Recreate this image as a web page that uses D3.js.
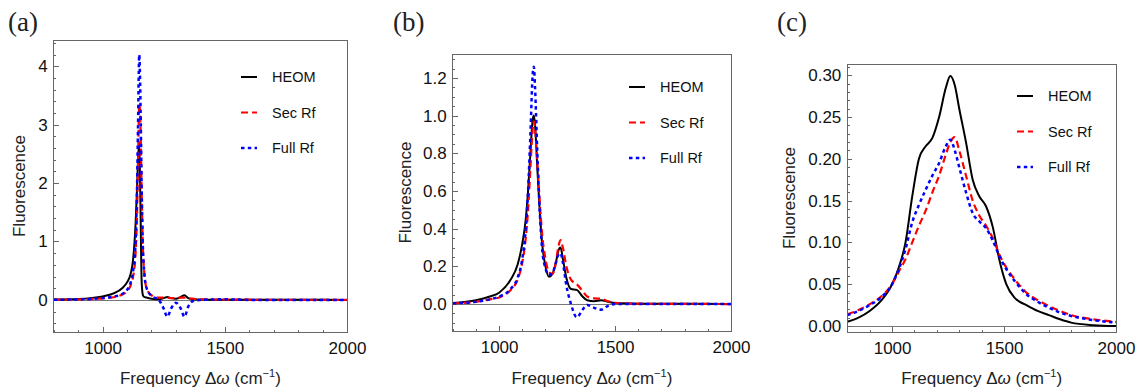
<!DOCTYPE html>
<meta charset="utf-8">
<style>
body { margin: 0; background: #fff; }
svg { font-family: "Liberation Sans", Arial, sans-serif; }
.frame { fill: none; stroke: #666; stroke-width: 1; shape-rendering: crispEdges; }
.tick line { stroke: #666; shape-rendering: crispEdges; }
.tick text { font-family: "Liberation Sans", Arial, sans-serif; font-size: 17px; fill: #111; }
.zero { stroke: #777; stroke-width: 1; shape-rendering: crispEdges; }
.legend text { font-family: "Liberation Sans", Arial, sans-serif; font-size: 14.5px; fill: #111; }
.plabel { font-family: "Liberation Serif", "DejaVu Serif", serif; font-size: 27px; fill: #222; }
.alabel { font-family: "Liberation Sans", Arial, sans-serif; font-size: 17px; fill: #222; }
</style>
<body>
<div id="chart"></div>
<script src="https://d3js.org/d3.v7.min.js"></script>
<script>

// ---- panel (a) ----
var freqA = [800, 900, 1000, 1050, 1080, 1100, 1115, 1125, 1135, 1140, 1145, 1150, 1155, 1160, 1165, 1170, 1180, 1200, 1230, 1250, 1265, 1280, 1300, 1320, 1335, 1350, 1370, 1400, 1500, 1600, 1800, 2000];
var heomA = [0.005, 0.015, 0.06, 0.12, 0.2, 0.3, 0.45, 0.7, 1.3, 1.8, 2.4, 2.7, 1.6, 0.3, 0.08, 0.05, 0.04, 0.02, 0.01, 0.03, 0.05, 0.03, 0.02, 0.05, 0.08, 0.03, 0.01, 0.005, 0.003, 0.002, 0.001, 0.0];
var secA  = [0.003, 0.008, 0.025, 0.05, 0.09, 0.15, 0.25, 0.4, 0.8, 1.3, 2.3, 3.35, 3.0, 1.8, 0.9, 0.5, 0.2, 0.08, 0.04, 0.04, 0.04, 0.03, 0.03, 0.04, 0.04, 0.03, 0.02, 0.01, 0.005, 0.003, 0.001, 0.0];
var fullA = [0.003, 0.008, 0.03, 0.06, 0.1, 0.17, 0.3, 0.5, 1.0, 1.7, 3.0, 4.2, 3.4, 1.9, 0.9, 0.5, 0.2, 0.07, 0.0, -0.15, -0.29, -0.15, -0.05, -0.15, -0.29, -0.12, -0.02, 0.0, 0.01, 0.0, 0.0, 0.0];

// ---- panel (b) ----
var freqB = [800, 900, 960, 1000, 1050, 1080, 1100, 1115, 1125, 1135, 1145, 1150, 1155, 1165, 1175, 1185, 1200, 1215, 1230, 1245, 1255, 1265, 1275, 1290, 1310, 1335, 1360, 1380, 1410, 1440, 1470, 1500, 1600, 1800, 2000];
var heomB = [0.005, 0.02, 0.04, 0.06, 0.13, 0.21, 0.32, 0.45, 0.6, 0.8, 0.98, 1.0, 0.95, 0.72, 0.5, 0.33, 0.2, 0.145, 0.16, 0.22, 0.28, 0.3, 0.24, 0.14, 0.08, 0.075, 0.04, 0.02, 0.015, 0.02, 0.012, 0.005, 0.002, 0.001, 0.0];
var secB  = [0.004, 0.012, 0.025, 0.035, 0.075, 0.13, 0.22, 0.35, 0.5, 0.72, 0.93, 0.97, 0.93, 0.75, 0.55, 0.38, 0.24, 0.17, 0.16, 0.22, 0.3, 0.34, 0.3, 0.2, 0.13, 0.105, 0.07, 0.04, 0.03, 0.028, 0.015, 0.006, 0.002, 0.001, 0.0];
var fullB = [0.004, 0.012, 0.025, 0.04, 0.08, 0.14, 0.24, 0.4, 0.6, 0.9, 1.22, 1.26, 1.15, 0.8, 0.5, 0.3, 0.19, 0.155, 0.165, 0.22, 0.26, 0.27, 0.22, 0.1, 0.0, -0.07, -0.03, -0.005, -0.02, -0.03, -0.01, 0.0, 0.0, 0.0, 0.0];

// ---- panel (c) ----
var freqC = [800, 850, 900, 950, 1000, 1030, 1060, 1090, 1120, 1150, 1180, 1210, 1240, 1260, 1280, 1300, 1330, 1360, 1390, 1420, 1450, 1480, 1510, 1550, 1600, 1650, 1700, 1750, 1800, 1900, 2000];
var heomC = [0.005, 0.01, 0.018, 0.03, 0.05, 0.07, 0.1, 0.155, 0.2, 0.215, 0.225, 0.25, 0.285, 0.299, 0.288, 0.26, 0.22, 0.175, 0.155, 0.143, 0.118, 0.078, 0.05, 0.033, 0.025, 0.018, 0.013, 0.008, 0.004, 0.001, 0.0];
var secC  = [0.014, 0.019, 0.026, 0.035, 0.05, 0.065, 0.08, 0.1, 0.12, 0.138, 0.16, 0.18, 0.205, 0.22, 0.226, 0.21, 0.18, 0.15, 0.132, 0.12, 0.105, 0.085, 0.07, 0.055, 0.04, 0.031, 0.024, 0.018, 0.013, 0.008, 0.005];
var fullC = [0.013, 0.018, 0.025, 0.034, 0.05, 0.068, 0.092, 0.124, 0.145, 0.163, 0.18, 0.195, 0.215, 0.223, 0.21, 0.19, 0.16, 0.135, 0.125, 0.117, 0.102, 0.083, 0.068, 0.053, 0.038, 0.029, 0.022, 0.016, 0.012, 0.007, 0.004];

var seriesNames = ["HEOM", "Sec Rf", "Full Rf"];
var xTicks = [1000, 1500, 2000];
var yTicksA = [0, 1, 2, 3, 4];
var yTicksB = [0, 0.2, 0.4, 0.6, 0.8, 1.0, 1.2];
var yTicksC = [0, 0.05, 0.10, 0.15, 0.20, 0.25, 0.30];

var styles = [
  {color: "#000", width: 2, dash: null},
  {color: "#f00", width: 2.2, dash: "7,4"},
  {color: "#00f", width: 2.5, dash: "3.5,3.3"}
];

var panels = [
  {name: "(a)", left: 53.7, right: 347, top: 40, bottom: 332, yDomain: [-0.55, 4.45],
   yTicks: yTicksA, yMinor: 0.2, fmt: d3.format("d"), freq: freqA, vals: [heomA, secA, fullA],
   legendX: 241, legendY: 77, labelX: 8, yLabelX: 19},
  {name: "(b)", left: 452.7, right: 731, top: 54, bottom: 331, yDomain: [-0.143, 1.327],
   yTicks: yTicksB, yMinor: 0.05, fmt: d3.format(".1f"), freq: freqB, vals: [heomB, secB, fullB],
   legendX: 629, legendY: 87, labelX: 393, yLabelX: 405},
  {name: "(c)", left: 847.3, right: 1116, top: 64, bottom: 332, yDomain: [-0.0072, 0.3135],
   yTicks: yTicksC, yMinor: 0.01, fmt: d3.format(".2f"), freq: freqC, vals: [heomC, secC, fullC],
   legendX: 1017, legendY: 96, labelX: 777, yLabelX: 789}
];

var svg = d3.select("#chart").append("svg")
  .attr("width", 1136)
  .attr("height", 391);

svg.append("rect").attr("width", 1136).attr("height", 391).attr("fill", "#fff");

panels.forEach(function(p, i) {
  var x = d3.scaleLinear().domain([800, 2000]).range([p.left, p.right]);
  var y = d3.scaleLinear().domain(p.yDomain).range([p.bottom, p.top]);

  var clipId = "clip" + i;
  svg.append("clipPath").attr("id", clipId)
    .append("rect")
    .attr("x", p.left).attr("y", p.top)
    .attr("width", p.right - p.left).attr("height", p.bottom - p.top);

  // zero axis line
  svg.append("line").attr("class", "zero")
    .attr("x1", p.left).attr("x2", p.right)
    .attr("y1", Math.round(y(0)) + 0.5).attr("y2", Math.round(y(0)) + 0.5);

  // minor ticks
  var yMinor = d3.range(Math.ceil(p.yDomain[0] / p.yMinor) * p.yMinor, p.yDomain[1], p.yMinor);
  svg.append("g").attr("transform", `translate(${p.left},0)`)
    .call(d3.axisLeft(y).tickValues(yMinor).tickSize(-2.5).tickFormat(""))
    .call(g => g.select(".domain").remove());
  svg.append("g").attr("transform", `translate(0,${p.bottom})`)
    .call(d3.axisBottom(x).tickValues(d3.range(800, 2001, 100)).tickSize(-2.5).tickFormat(""))
    .call(g => g.select(".domain").remove());

  // major ticks
  svg.append("g").attr("transform", `translate(${p.left},0)`)
    .call(d3.axisLeft(y).tickValues(p.yTicks).tickSize(-5).tickPadding(6).tickFormat(p.fmt))
    .call(g => g.select(".domain").remove());
  svg.append("g").attr("transform", `translate(0,${p.bottom})`)
    .call(d3.axisBottom(x).tickValues(xTicks).tickSize(-5).tickPadding(10).tickFormat(d3.format("d")))
    .call(g => g.select(".domain").remove());

  // curves
  var line = d3.line()
    .x((d, k) => x(p.freq[k]))
    .y(d => y(d))
    .curve(d3.curveMonotoneX);

  p.vals.forEach(function(v, s) {
    svg.append("path")
      .datum(v)
      .attr("clip-path", `url(#${clipId})`)
      .attr("fill", "none")
      .attr("stroke", styles[s].color)
      .attr("stroke-width", styles[s].width)
      .attr("stroke-dasharray", styles[s].dash)
      .attr("d", line);
  });

  svg.append("rect").attr("class", "frame")
    .attr("x", p.left).attr("y", p.top)
    .attr("width", p.right - p.left).attr("height", p.bottom - p.top);

  // legend
  var lg = svg.append("g").attr("class", "legend");
  seriesNames.forEach(function(n, s) {
    var ly = p.legendY + s * 35.5;
    lg.append("line")
      .attr("x1", p.legendX).attr("x2", p.legendX + 16)
      .attr("y1", ly).attr("y2", ly)
      .attr("stroke", styles[s].color)
      .attr("stroke-width", styles[s].width)
      .attr("stroke-dasharray", styles[s].dash);
    lg.append("text")
      .attr("x", p.legendX + 31).attr("y", ly)
      .attr("dy", "0.35em")
      .text(n);
  });

  // panel label
  svg.append("text").attr("class", "plabel")
    .attr("x", p.labelX).attr("y", 31)
    .text(p.name);

  // axis labels
  svg.append("text").attr("class", "alabel")
    .attr("transform", `translate(${p.yLabelX},${(p.top + p.bottom) / 2}) rotate(-90)`)
    .attr("text-anchor", "middle")
    .attr("dy", "0.35em")
    .text("Fluorescence");

  var xl = svg.append("text").attr("class", "alabel")
    .attr("x", (p.left + p.right) / 2).attr("y", 384)
    .attr("text-anchor", "middle");
  xl.append("tspan").text("Frequency \u0394");
  xl.append("tspan").style("font-style", "italic").text("\u03c9");
  xl.append("tspan").text(" (cm");
  xl.append("tspan").attr("dy", -7).style("font-size", "11px").text("\u22121");
  xl.append("tspan").attr("dy", 7).text(")");
});

</script>
</body>
